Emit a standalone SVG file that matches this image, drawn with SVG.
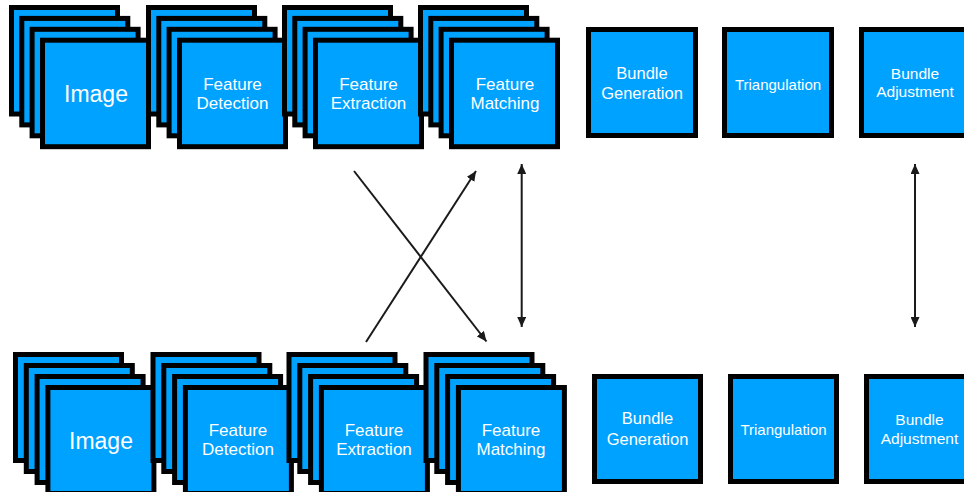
<svg xmlns="http://www.w3.org/2000/svg" width="964" height="492" viewBox="0 0 964 492">
  <style>
    .box { fill: #00a2ff; stroke: #000; stroke-width: 5; }
    .lbl { fill: #ffffff; font-family: "Liberation Sans", Arial, Helvetica, sans-serif; text-anchor: middle; }
    .big { font-size: 23px; }
    .mid { font-size: 17px; }
    .bg { font-size: 16.5px; }
    .sm { font-size: 15px; }
    .ba { font-size: 15.5px; }
    .conn { stroke: #1a1a1a; stroke-width: 2; fill: none; }
  </style>
  <defs>
    <marker id="head" markerUnits="userSpaceOnUse" markerWidth="10" markerHeight="9" refX="10" refY="4.5" orient="auto-start-reverse">
      <path d="M0,0 L10,4.5 L0,9 Z" fill="#1a1a1a"/>
    </marker>
  </defs>

  <rect width="964" height="492" fill="#ffffff"/>

  <!-- upper pipeline: stacked frames -->
  <g id="image-top">
    <rect class="box" x="11.5" y="7.5" width="106" height="106.5"/>
    <rect class="box" x="21.8" y="18.4" width="106" height="106.5"/>
    <rect class="box" x="32.1" y="29.3" width="106" height="106.5"/>
    <rect class="box" x="42.5" y="40.2" width="106" height="106.5"/>
    <text class="lbl big" x="96" y="102">Image</text>
  </g>
  <g id="detection-top">
    <rect class="box" x="148.5" y="7.5" width="106" height="106.5"/>
    <rect class="box" x="158.8" y="18.4" width="106" height="106.5"/>
    <rect class="box" x="169.1" y="29.3" width="106" height="106.5"/>
    <rect class="box" x="179.5" y="40.2" width="106" height="106.5"/>
    <text class="lbl mid" x="232.5" y="89.5">Feature</text>
    <text class="lbl mid" x="232.5" y="109">Detection</text>
  </g>
  <g id="extraction-top">
    <rect class="box" x="284.5" y="7.5" width="106" height="106.5"/>
    <rect class="box" x="294.8" y="18.4" width="106" height="106.5"/>
    <rect class="box" x="305.1" y="29.3" width="106" height="106.5"/>
    <rect class="box" x="315.5" y="40.2" width="106" height="106.5"/>
    <text class="lbl mid" x="368.5" y="89.5">Feature</text>
    <text class="lbl mid" x="368.5" y="109">Extraction</text>
  </g>
  <g id="matching-top">
    <rect class="box" x="420.5" y="7.5" width="106" height="106.5"/>
    <rect class="box" x="430.8" y="18.4" width="106" height="106.5"/>
    <rect class="box" x="441.1" y="29.3" width="106" height="106.5"/>
    <rect class="box" x="451.5" y="40.2" width="106" height="106.5"/>
    <text class="lbl mid" x="505" y="89.5">Feature</text>
    <text class="lbl mid" x="505" y="109">Matching</text>
  </g>
  <g id="bundle-gen-top">
    <rect class="box" x="588.5" y="29.5" width="107" height="106"/>
    <text class="lbl bg" x="642" y="79">Bundle</text>
    <text class="lbl bg" x="642" y="99">Generation</text>
  </g>
  <g id="triangulation-top">
    <rect class="box" x="724.5" y="29.5" width="107" height="106"/>
    <text class="lbl sm" x="778" y="89.5">Triangulation</text>
  </g>
  <g id="bundle-adj-top">
    <rect class="box" x="861.5" y="29.5" width="107" height="106"/>
    <text class="lbl ba" x="915" y="79">Bundle</text>
    <text class="lbl ba" x="915" y="96.7">Adjustment</text>
  </g>

  <!-- lower pipeline: stacked frames -->
  <g id="image-bottom">
    <rect class="box" x="15.5" y="354.5" width="106" height="106"/>
    <rect class="box" x="26.3" y="365.5" width="106" height="106"/>
    <rect class="box" x="37.1" y="376.5" width="106" height="106"/>
    <rect class="box" x="47.9" y="387.5" width="106" height="106"/>
    <text class="lbl big" x="101" y="448.5">Image</text>
  </g>
  <g id="detection-bottom">
    <rect class="box" x="153" y="354.5" width="106" height="106"/>
    <rect class="box" x="163.8" y="365.5" width="106" height="106"/>
    <rect class="box" x="174.6" y="376.5" width="106" height="106"/>
    <rect class="box" x="185.4" y="387.5" width="106" height="106"/>
    <text class="lbl mid" x="238" y="435.5">Feature</text>
    <text class="lbl mid" x="238" y="455">Detection</text>
  </g>
  <g id="extraction-bottom">
    <rect class="box" x="289" y="354.5" width="106" height="106"/>
    <rect class="box" x="299.8" y="365.5" width="106" height="106"/>
    <rect class="box" x="310.6" y="376.5" width="106" height="106"/>
    <rect class="box" x="321.4" y="387.5" width="106" height="106"/>
    <text class="lbl mid" x="374" y="435.5">Feature</text>
    <text class="lbl mid" x="374" y="455">Extraction</text>
  </g>
  <g id="matching-bottom">
    <rect class="box" x="426" y="354.5" width="106" height="106"/>
    <rect class="box" x="436.8" y="365.5" width="106" height="106"/>
    <rect class="box" x="447.6" y="376.5" width="106" height="106"/>
    <rect class="box" x="458.4" y="387.5" width="106" height="106"/>
    <text class="lbl mid" x="511" y="435.5">Feature</text>
    <text class="lbl mid" x="511" y="455">Matching</text>
  </g>
  <g id="bundle-gen-bottom">
    <rect class="box" x="594.5" y="376.5" width="106" height="105"/>
    <text class="lbl bg" x="647.5" y="424">Bundle</text>
    <text class="lbl bg" x="647.5" y="445">Generation</text>
  </g>
  <g id="triangulation-bottom">
    <rect class="box" x="730.5" y="376.5" width="106" height="105"/>
    <text class="lbl sm" x="783.5" y="435">Triangulation</text>
  </g>
  <g id="bundle-adj-bottom">
    <rect class="box" x="866.5" y="376.5" width="106" height="105"/>
    <text class="lbl ba" x="919.5" y="425">Bundle</text>
    <text class="lbl ba" x="919.5" y="443.5">Adjustment</text>
  </g>

  <!-- connectors between the two pipelines -->
  <g id="connectors">
    <line class="conn" x1="354" y1="171" x2="486.5" y2="341.5" marker-end="url(#head)"/>
    <line class="conn" x1="366" y1="342" x2="476" y2="171" marker-end="url(#head)"/>
    <line class="conn" x1="521.7" y1="164" x2="521.7" y2="327" marker-start="url(#head)" marker-end="url(#head)"/>
    <line class="conn" x1="915" y1="164" x2="915" y2="327" marker-start="url(#head)" marker-end="url(#head)"/>
  </g>
</svg>
